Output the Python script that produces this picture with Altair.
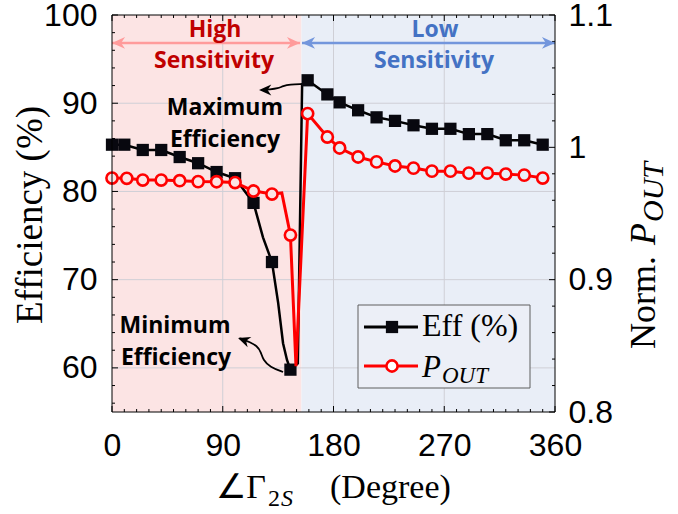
import altair as alt
import pandas as pd

# ---------------- data ----------------
eff_deg = [0, 10, 25, 40, 55, 70, 85, 100, 115, 122.7, 130, 135, 139, 142.2, 145, 151, 154.5,
           159, 175, 185, 200, 215, 230, 245, 260, 275, 290, 305, 320, 335, 350]
eff_val = [85.3, 85.3, 84.7, 84.7, 83.9, 83.2, 82.2, 81.5, 78.7, 74.8, 72.0, 67.4, 62.8, 60.9, 59.8, 60.5, 92.1,
           92.6, 91.0, 90.1, 89.2, 88.4, 88.0, 87.5, 87.1, 87.1, 86.5, 86.5, 85.8, 85.8, 85.3]
eff_marker = [1, 1, 1, 1, 1, 1, 1, 1, 1, 0, 1, 0, 0, 0, 1, 0, 0,
              1, 1, 1, 1, 1, 1, 1, 1, 1, 1, 1, 1, 1, 1]

pout_deg = [0, 12, 25, 40, 55, 70, 85, 100, 115, 130, 138, 145, 149.5,
            159, 175, 185, 200, 215, 230, 245, 260, 275, 290, 305, 320, 335, 350]
pout_val = [0.9768, 0.9766, 0.9753, 0.9753, 0.9748, 0.9741, 0.9740, 0.9734, 0.9670, 0.9647, 0.9655, 0.9337, 0.8347,
            1.0255, 1.0078, 0.9995, 0.9927, 0.9890, 0.9859, 0.9843, 0.9820, 0.9820, 0.9805, 0.9805, 0.9798, 0.9790, 0.9768]
pout_marker = [1, 1, 1, 1, 1, 1, 1, 1, 1, 1, 0, 1, 0,
               1, 1, 1, 1, 1, 1, 1, 1, 1, 1, 1, 1, 1, 1]

region_name = ["high", "low"]
region_start = [0, 154]
region_end = [154, 360]

grid_x = [90, 180, 270]
grid_y = [60, 70, 80, 90]

x_labels = [0, 90, 180, 270, 360]
x_minor = [d for d in range(10, 360, 10) if d % 90 != 0]
yl_labels = [60, 70, 80, 90, 100]
yl_minor = [v for v in range(56, 100, 2) if v % 10 != 0]
yr_labels = [0.8, 0.9, 1.0, 1.1]
yr_minor = [0.82, 0.84, 0.86, 0.88, 0.92, 0.94, 0.96, 0.98, 1.02, 1.04, 1.06, 1.08]

high_text = ["High", "Sensitivity"]
high_deg = [83.7, 82.9]
high_eff = [97.5, 94.0]
low_text = ["Low", "Sensitivity"]
low_deg = [262.5, 261.7]
low_eff = [97.5, 94.0]
note_text = ["Maximum", "Efficiency", "Minimum", "Efficiency"]
note_deg = [91.8, 91.8, 51.2, 52.0]
note_eff = [88.7, 85.0, 64.0, 60.3]

high_span = [0, 152.8]
low_span = [154.4, 360]
span_eff = 96.83

arr_grp = ["max"] * 6 + ["min"] * 8
arr_deg = [154.4, 144.6, 139.0, 134.9, 128.4, 121.5,
           139.0, 128.4, 122.7, 121.1, 117.8, 112.1, 105.5, 103.5]
arr_eff = [92.18, 92.12, 91.95, 91.67, 91.56, 91.5,
           59.53, 60.1, 60.9, 61.8, 62.5, 62.9, 63.3, 63.35]
tip_deg = [119.5, 102.4]
tip_eff = [91.5, 63.4]
tip_ang = [0, 20]

# ---------------- layout / style ----------------
W, H = 443, 397
PINK, BLUE = "#FCE4E4", "#E9EEF7"
HIGH_TXT, LOW_TXT = "#C00000", "#4472C4"
HIGH_ARR, LOW_ARR = "#FF9B9B", "#7396DC"
LEFT_HEAD = "M0,0 L2,-0.9 L1.4,0 L2,0.9 Z"
RIGHT_HEAD = "M0,0 L-2,-0.9 L-1.4,0 L-2,0.9 Z"
TICKF = "Liberation Sans"
SERIF = "Liberation Serif"
ANNF = "Open Sans"

xs = alt.Scale(domain=[0, 360], nice=False, zero=False)
yls = alt.Scale(domain=[55, 100], nice=False, zero=False)
yrs = alt.Scale(domain=[0.8, 1.1], nice=False, zero=False)

axis_common = dict(labelFontSize=32, labelFont=TICKF, labelColor="black", ticks=False,
                   domain=False, grid=False, title=None, labelFlush=False, labelOverlap=False)
X_AXIS = alt.Axis(orient="bottom", values=x_labels, labelPadding=18, **axis_common)


def xq(f):
    return alt.X(f"{f}:Q", scale=xs, axis=X_AXIS)


def yl(f, axis=None):
    return alt.Y(f"{f}:Q", scale=yls, axis=axis)


def yr(f, axis=None):
    return alt.Y(f"{f}:Q", scale=yrs, axis=axis)


one = pd.DataFrame({"a": [0]})

# background regions
regions = pd.DataFrame({"zone": region_name, "start": region_start, "end": region_end})
bg = alt.Chart(regions).mark_rect().encode(
    x=xq("start"), x2="end:Q",
    color=alt.Color("zone:N", scale=alt.Scale(domain=region_name, range=[PINK, BLUE]), legend=None),
)

gx = alt.Chart(pd.DataFrame({"v": grid_x})).mark_rule(color="#CFCFD6", strokeWidth=1).encode(x=xq("v"))
gy = alt.Chart(pd.DataFrame({"v": grid_y})).mark_rule(color="#CFCFD6", strokeWidth=1).encode(y=yl("v"))


def xticks(vals, length):
    d = pd.DataFrame({"v": vals})
    b = alt.Chart(d).mark_rule(color="black", strokeWidth=1).encode(
        x=xq("v"), y=alt.value(H), y2=alt.value(H - length))
    t = alt.Chart(d).mark_rule(color="black", strokeWidth=1).encode(
        x=xq("v"), y=alt.value(0), y2=alt.value(length))
    return [b, t]


def lticks(vals, length):
    return alt.Chart(pd.DataFrame({"v": vals})).mark_rule(color="black", strokeWidth=1).encode(
        y=yl("v"), x=alt.value(0), x2=alt.value(length))


def rticks(vals, length):
    return alt.Chart(pd.DataFrame({"v": vals})).mark_rule(color="black", strokeWidth=1).encode(
        y=yr("v"), x=alt.value(W), x2=alt.value(W - length))


ticks = xticks(x_labels, 6) + xticks(x_minor, 3) + [lticks(yl_labels, 6), lticks(yl_minor, 3),
                                                    rticks(yr_labels, 6), rticks(yr_minor, 3)]


def span(rng, color):
    d = pd.DataFrame({"s": [rng[0]], "e": [rng[1]], "y": [span_eff]})
    line = alt.Chart(d).mark_rule(strokeWidth=2.5, color=color).encode(x=xq("s"), x2="e:Q", y=yl("y"))
    lh = alt.Chart(d).mark_point(filled=True, opacity=1, size=170, color=color, shape=LEFT_HEAD).encode(
        x=xq("s"), y=yl("y"))
    rh = alt.Chart(d).mark_point(filled=True, opacity=1, size=170, color=color, shape=RIGHT_HEAD).encode(
        x=xq("e"), y=yl("y"))
    return [line, lh, rh]


def ann(texts, degs, effs, color):
    d = pd.DataFrame({"t": texts, "deg": degs, "y": effs})
    return alt.Chart(d).mark_text(font=ANNF, fontWeight="bold", fontSize=23, baseline="alphabetic",
                                  align="center", color=color).encode(x=xq("deg"), y=yl("y"), text="t:N")


annotations = (span(high_span, HIGH_ARR) + span(low_span, LOW_ARR) +
               [ann(high_text, high_deg, high_eff, HIGH_TXT), ann(low_text, low_deg, low_eff, LOW_TXT),
                ann(note_text, note_deg, note_eff, "#000000")])

# curved annotation arrows
arr_df = pd.DataFrame({"g": arr_grp, "deg": arr_deg, "y": arr_eff, "o": list(range(len(arr_deg)))})
arrows = alt.Chart(arr_df).mark_line(interpolate="basis", color="black", strokeWidth=1.8).encode(
    x=xq("deg"), y=yl("y"), detail="g:N", order="o:Q")
tip_df = pd.DataFrame({"deg": tip_deg, "y": tip_eff, "ang": tip_ang})
tips = alt.Chart(tip_df).mark_point(filled=True, opacity=1, size=150, color="black", shape=LEFT_HEAD).encode(
    x=xq("deg"), y=yl("y"), angle=alt.Angle("ang:Q", scale=None))

# data series
eff_df = pd.DataFrame({"deg": eff_deg, "eff": eff_val, "m": eff_marker})
eff_line = alt.Chart(eff_df).mark_line(color="#000000", strokeWidth=2.5).encode(
    x=xq("deg"),
    y=yl("eff", alt.Axis(orient="left", values=yl_labels, labelPadding=15, **axis_common)))
eff_pts = alt.Chart(eff_df).transform_filter("datum.m == 1").mark_square(
    color="#08080F", size=150, opacity=1).encode(x=xq("deg"), y=yl("eff"))

pout_df = pd.DataFrame({"deg": pout_deg, "p": pout_val, "m": pout_marker})
pout_line = alt.Chart(pout_df).mark_line(color="#FF0000", strokeWidth=3).encode(
    x=xq("deg"),
    y=yr("p", alt.Axis(orient="right", values=yr_labels, format="~g", labelPadding=13, **axis_common)))
pout_pts = alt.Chart(pout_df).transform_filter("datum.m == 1").mark_point(
    shape="circle", size=125, strokeWidth=2.6, color="#FF0000", opacity=1, filled=False).encode(
    x=xq("deg"), y=yr("p"),
    fill=alt.condition("datum.deg < 154", alt.value(PINK), alt.value(BLUE)))

# frame
frame = [
    alt.Chart(one).mark_rule(color="black", strokeWidth=1).encode(x=alt.value(0), x2=alt.value(W), y=alt.value(0)),
    alt.Chart(one).mark_rule(color="black", strokeWidth=1).encode(x=alt.value(0), x2=alt.value(W), y=alt.value(H)),
    alt.Chart(one).mark_rule(color="black", strokeWidth=1).encode(x=alt.value(0), y=alt.value(0), y2=alt.value(H)),
    alt.Chart(one).mark_rule(color="black", strokeWidth=1).encode(x=alt.value(W), y=alt.value(0), y2=alt.value(H)),
]


def txt(s, x, y, size, style="normal", align="left", angle=0, font=SERIF):
    return alt.Chart(one).mark_text(text=s, font=font, fontSize=size, fontStyle=style, align=align,
                                    baseline="alphabetic", angle=angle, color="black").encode(
        x=alt.value(x), y=alt.value(y))


# axis titles
titles = [
    txt("Efficiency (%)", -70, 200, 37, align="center", angle=270),
    txt("∠Γ", 154, 483, 34, align="right"),
    txt("2", 156, 491, 24),
    txt("S", 169, 491, 24, style="italic"),
    txt("(Degree)", 218, 483, 34),
    txt("Norm.", 543, 334, 36, angle=270),
    txt("P", 543, 230, 36, style="italic", angle=270),
    txt("OUT", 551, 207, 30, style="italic", angle=270),
]

# legend
legend = [
    alt.Chart(one).mark_rect(fill="#ECEFF7", stroke="#5F5F5F", strokeWidth=1).encode(
        x=alt.value(246), x2=alt.value(418), y=alt.value(290), y2=alt.value(373)),
    alt.Chart(one).mark_rule(color="black", strokeWidth=3).encode(
        x=alt.value(252), x2=alt.value(306), y=alt.value(312)),
    alt.Chart(one).mark_square(color="#08080F", size=150, opacity=1).encode(x=alt.value(280), y=alt.value(312)),
    alt.Chart(one).mark_rule(color="#FF0000", strokeWidth=3).encode(
        x=alt.value(252), x2=alt.value(306), y=alt.value(351)),
    alt.Chart(one).mark_point(shape="circle", size=125, strokeWidth=2.6, color="#FF0000", fill="white",
                              opacity=1, filled=False).encode(x=alt.value(280), y=alt.value(351)),
    txt("Eff (%)", 310, 321, 32),
    txt("P", 310, 362, 31, style="italic"),
    txt("OUT", 330, 368, 23, style="italic"),
]

layers = ([bg, gx, gy] + ticks + annotations + [arrows, tips, eff_line, eff_pts, pout_line, pout_pts]
          + frame + titles + legend)

chart = alt.layer(*layers).properties(
    width=W, height=H,
    padding={"left": 112, "top": 15, "right": 123, "bottom": 102},
    autosize=alt.AutoSizeParams(type="none"),
    background="white",
).resolve_scale(y="independent").configure_view(stroke=None)

chart.save("out.html", embed_options={"renderer": "svg", "actions": False})
